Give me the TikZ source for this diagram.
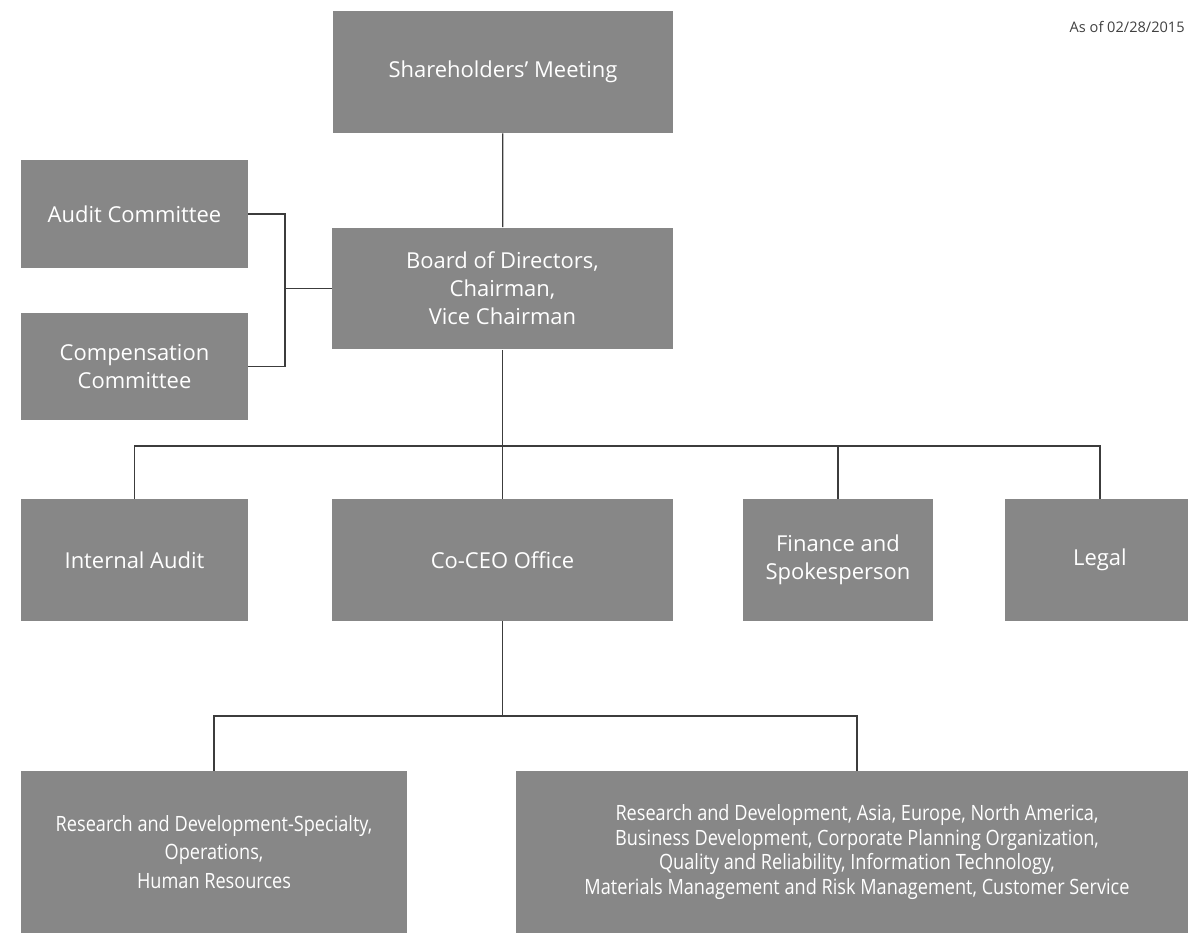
\documentclass[tikz,border=0pt]{standalone}
\usepackage{fontspec}
\setmainfont{Open Sans}
\newfontfamily\narrowfont[FakeStretch=0.86]{Open Sans}
\usepackage{xcolor}
\usepackage{tikz}
\usetikzlibrary{positioning}

\definecolor{boxgray}{HTML}{878787}
\definecolor{linegray}{HTML}{3C3C3C}

\begin{document}
\begin{tikzpicture}[
  x=0.02cm, y=-0.02cm,
  block/.style={fill=boxgray, text=white, align=center, inner sep=2pt,
    font=\fontsize{12.5}{16}\selectfont, minimum height=2.44cm},
  wide/.style={block, minimum width=6.82cm},
  narrow/.style={block, minimum width=4.54cm},
  small/.style={block, minimum width=3.8cm},
  unit/.style={block, minimum height=3.24cm, font=\narrowfont\fontsize{12}{13.9}\selectfont},
  conn/.style={draw=linegray, line width=0.7pt}
]
\useasboundingbox (0,0) rectangle (1188,935);

\node[wide] (share) at (503,72) {Shareholders' Meeting};
\node[wide] (board) at (502.5,288.5) {Board of Directors,\\Chairman,\\Vice Chairman};
\node[narrow, minimum height=2.16cm] (audit) at (134.5,214) {Audit Committee};
\node[narrow, minimum height=2.14cm] (comp) at (134.5,366.5) {Compensation\\Committee};

\node[narrow] (ia) at (134.5,560) {Internal Audit};
\node[wide] (ceo) at (502.5,560) {Co-CEO Office};
\node[small] (fin) at (838,560) {Finance and\\Spokesperson};
\node[small] (legal) at (1100,560) {Legal};

\node[unit, minimum width=7.72cm, font=\narrowfont\fontsize{12}{16}\selectfont] (rdl) at (214,852)
  {Research and Development-Specialty,\\Operations,\\Human Resources};
\node[unit, minimum width=13.64cm] (rdr) at (857,852)
  {Research and Development, Asia, Europe, North America,\\
   Business Development, Corporate Planning Organization,\\
   Quality and Reliability, Information Technology,\\
   Materials Management and Risk Management, Customer Service};

\node[anchor=east, text=black!75, inner sep=0pt, font=\fontsize{8.3}{10}\selectfont] (asof) at (1185,27) {As of 02/28/2015};

\coordinate (cj) at (285,288.5);
\coordinate (bus1) at (502.5,446);
\coordinate (bus2) at (502.5,716);

\draw[conn] (share) -- (board);
\draw[conn] (audit.east) -| (cj) |- (comp.east);
\draw[conn] (cj) -- (board.west);
\draw[conn] (board) -- (bus1);
\draw[conn] (ia.north) |- (bus1) -| (legal.north);
\draw[conn] (bus1) -- (ceo);
\draw[conn] (fin.north) -- (fin.north |- bus1);
\draw[conn] (ceo) -- (bus2);
\draw[conn] (rdl.north) |- (bus2) -| (rdr.north);
\end{tikzpicture}
\end{document}
